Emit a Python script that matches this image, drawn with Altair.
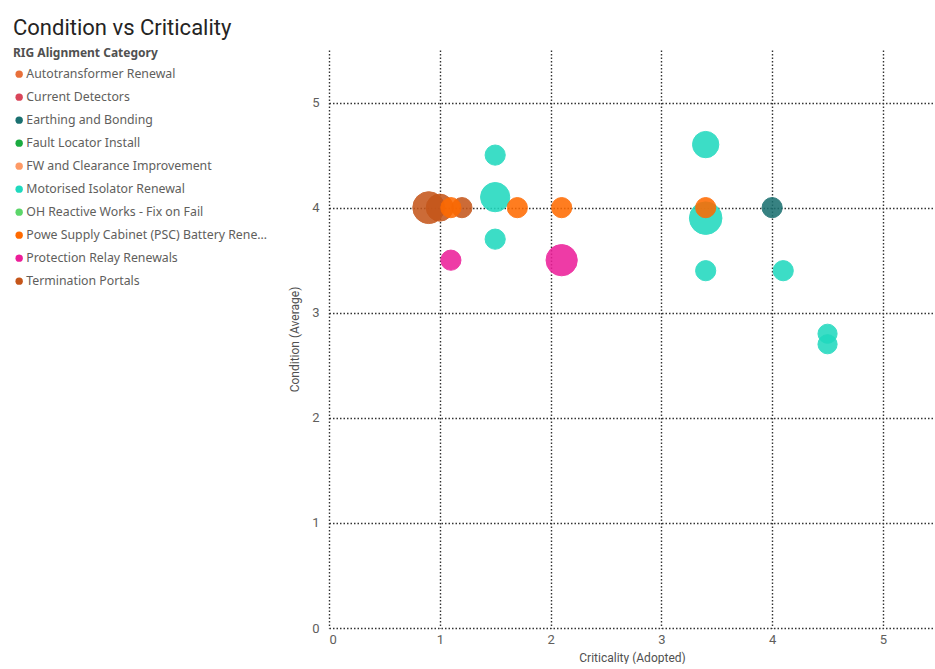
import altair as alt
import pandas as pd

categories = [
    "Autotransformer Renewal",
    "Current Detectors",
    "Earthing and Bonding",
    "Fault Locator Install",
    "FW and Clearance Improvement",
    "Motorised Isolator Renewal",
    "OH Reactive Works - Fix on Fail",
    "Powe Supply Cabinet (PSC) Battery Renewal",
    "Protection Relay Renewals",
    "Termination Portals",
]
colors = ["#E8703A", "#D9465A", "#1A7070", "#1AAB40", "#FE9A66",
          "#20D9BE", "#5CD66A", "#FF6A00", "#EC1E99", "#C5561A"]

point_category = (
    ["Termination Portals"] * 3
    + ["Powe Supply Cabinet (PSC) Battery Renewal"] * 4
    + ["Motorised Isolator Renewal"] * 9
    + ["Protection Relay Renewals"] * 2
    + ["Earthing and Bonding"]
)
criticality = [0.9, 1.0, 1.2,
               1.1, 1.7, 2.1, 3.4,
               1.5, 1.5, 1.5, 3.4, 3.4, 3.4, 4.1, 4.5, 4.5,
               1.1, 2.1,
               4.0]
condition = [4.0, 4.0, 4.0,
             4.0, 4.0, 4.0, 4.0,
             4.5, 4.1, 3.7, 4.6, 3.9, 3.4, 3.4, 2.8, 2.7,
             3.5, 3.5,
             4.0]
bubble = [25, 18, 10,
          10, 10, 10, 10,
          10, 21, 10, 17, 26, 10, 10, 9, 9,
          10, 24,
          10]

df = pd.DataFrame({
    "Category": point_category,
    "Criticality": criticality,
    "Condition": condition,
    "Bubble": bubble,
})

grid = dict(grid=True, gridColor="#333333", gridDash=[1.5, 2], gridWidth=1.4,
            domain=False, ticks=False, labelColor="#605E5C", labelFontSize=13,
            labelFont="Roboto", titleFont="Roboto", titleFontSize=12,
            titleColor="#505050", titleFontWeight="normal")

chart = alt.Chart(df).mark_circle(opacity=0.87, strokeWidth=1).encode(
    x=alt.X("Criticality:Q", title="Criticality (Adopted)",
            scale=alt.Scale(domain=[0, 5.47], nice=False),
            axis=alt.Axis(values=[0, 1, 2, 3, 4, 5], labelPadding=5, titlePadding=6, **grid)),
    y=alt.Y("Condition:Q", title="Condition (Average)",
            scale=alt.Scale(domain=[0, 5.5], nice=False),
            axis=alt.Axis(values=[0, 1, 2, 3, 4, 5], labelPadding=10, titlePadding=10, **grid)),
    size=alt.Size("Bubble:Q", scale=alt.Scale(domain=[0, 25], range=[0, 1018]), legend=None),
    order=alt.Order("Bubble:Q", sort="descending"),
    color=alt.Color("Category:N", scale=alt.Scale(domain=categories, range=colors),
                    legend=alt.Legend(title="RIG Alignment Category", orient="none",
                                      legendX=-316, legendY=-2,
                                      titleFont="Noto Sans", titleFontSize=12,
                                      titleFontWeight="bold", titleColor="#505050",
                                      labelFont="Noto Sans", labelFontSize=12.3,
                                      labelColor="#605E5C", labelLimit=247,
                                      symbolType="circle", symbolSize=55,
                                      symbolStrokeWidth=0, symbolOpacity=1,
                                      rowPadding=10, labelOffset=1, titlePadding=8)),
    stroke=alt.Color("Category:N", scale=alt.Scale(domain=categories, range=colors), legend=None),
).properties(
    width=606,
    height=578,
    title=alt.TitleParams("Condition vs Criticality", anchor="start", frame="group",
                          dx=-316, offset=8, font="Roboto", fontSize=22,
                          fontWeight="normal", color="#252423"),
    autosize=alt.AutoSizeParams(type="none"),
    padding={"left": 329, "top": 50, "right": 0, "bottom": 36},
).configure(background="white").configure_view(stroke=None)

chart.save("out.html", embed_options={"renderer": "svg", "actions": False})
